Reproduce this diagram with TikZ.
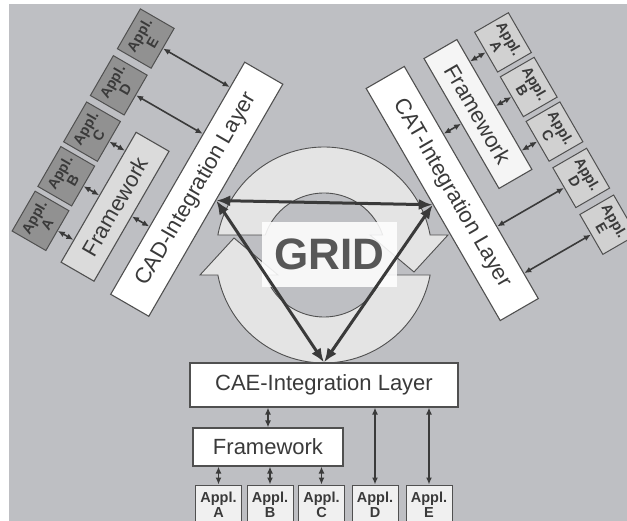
\documentclass[tikz,border=0pt]{standalone}
\usepackage{fontspec}
\setmainfont{Liberation Sans}
\usetikzlibrary{arrows.meta,calc}
\definecolor{bg}{HTML}{BEBFC3}
\definecolor{ink}{HTML}{3A3A3A}
\definecolor{edge}{HTML}{505050}
\definecolor{symfill}{HTML}{E4E4E4}
\tikzset{
  layerbox/.style={draw=edge, line width=1.1pt, fill=white, minimum width=268pt, minimum height=44pt,
    inner sep=0pt, text=ink, font=\fontsize{22}{26}\selectfont},
  fwbox/.style={draw=edge, line width=1.1pt, minimum width=150pt, minimum height=38pt,
    inner sep=0pt, text=ink, font=\fontsize{22}{26}\selectfont},
  applbox/.style={draw=edge, line width=1pt, minimum width=46pt, minimum height=39pt, inner sep=0pt,
    align=center, text=ink, font=\bfseries\fontsize{14.5}{15}\selectfont},
  link/.style={draw=ink, line width=1.6pt, {Latex[length=7pt,width=6pt]}-{Latex[length=7pt,width=6pt]}},
  tri/.style={draw=ink, line width=3pt, {Latex[length=14pt,width=11pt]}-{Latex[length=14pt,width=11pt]}},
  sym/.style={fill=symfill, draw=edge, line width=0.9pt},
  Bfw/.style={fill=white}, Bap/.style={fill=white!94!black},
  Lfw/.style={fill=white!86!black}, Lap/.style={fill=white!57!black},
  Rfw/.style={fill=white!96!black}, Rap/.style={fill=white!82!black},
}
% #1 prefix, #2 centre, #3 x-vector, #4 y-vector, #5 rotation, #6 outer anchor, #7 inner anchor, #8 layer text
\newcommand\applgroup[8]{%
  \begin{scope}[shift={#2}, x={#3}, y={#4}]
    \node[layerbox, rotate=#5] (#1L) at (0,0) {#8};
    \node[fwbox, #1fw, rotate=#5] (#1F) at (-56,62) {Framework};
    \foreach \n/\s in {A/-105.5,B/-54,C/-2.5,D/51,E/105}
      \node[applbox, #1ap, rotate=#5] (#1\n) at (\s,119.5) {Appl.\\\n};
  \end{scope}
  \draw[link] ($(#1L.#6 west)!(#1F.#7)!(#1L.#6 east)$) -- (#1F.#7);
  \foreach \n in {A,B,C}
    \draw[link] ($(#1F.#6 west)!(#1\n.#7)!(#1F.#6 east)$) -- (#1\n.#7);
  \foreach \n in {D,E}
    \draw[link] ($(#1L.#6 west)!(#1\n.#7)!(#1L.#6 east)$) -- (#1\n.#7);
}
\begin{document}
\begin{tikzpicture}[x=1pt, y=-1pt]
  \useasboundingbox (0,0) rectangle (627,521);
  \clip (0,0) rectangle (627,521);
  \fill[white] (0,0) rectangle (627,521);
  \fill[bg] (9,4) rectangle (627,521);

  % GRID cycle symbol
  \filldraw[sym] plot[domain=190.67:349.33, samples=60] ({324+108*cos(\x)},{255+108*sin(\x)})
     -- (448,235) -- (414,272) -- (370,235)
     -- plot[domain=341.18:198.82, samples=50] ({324+62*cos(\x)},{255+62*sin(\x)}) -- cycle;
  \filldraw[sym] plot[domain=10.67:169.33, samples=60] ({324+108*cos(\x)},{255+108*sin(\x)})
     -- (200,275) -- (234,238) -- (278,275)
     -- plot[domain=161.18:18.82, samples=50] ({324+62*cos(\x)},{255+62*sin(\x)}) -- cycle;
  \node[fill=white, fill opacity=0.88, text opacity=1, minimum width=135pt, minimum height=65pt,
        inner sep=0pt, text=ink!85!white, font=\bfseries\fontsize{44}{44}\selectfont] (grid) at (329.5,254.5) {GRID};

  % the three groups
  \applgroup{B}{(324,385)}{(1pt,0pt)}{(0pt,-1pt)}{0}{south}{north}{CAE-Integration Layer}
  \applgroup{L}{(196.75,189.25)}{(0.5pt,0.866pt)}{(-0.866pt,0.5pt)}{60}{north}{south}{CAD-Integration Layer}
  \applgroup{R}{(452.25,193.5)}{(0.5pt,-0.866pt)}{(0.866pt,0.5pt)}{-60}{north}{south}{CAT-Integration Layer}

  % triangle
  \draw[tri] (LL.south) -- (RL.south);
  \draw[tri] (LL.south) -- (BL.north);
  \draw[tri] (RL.south) -- (BL.north);
\end{tikzpicture}
\end{document}
